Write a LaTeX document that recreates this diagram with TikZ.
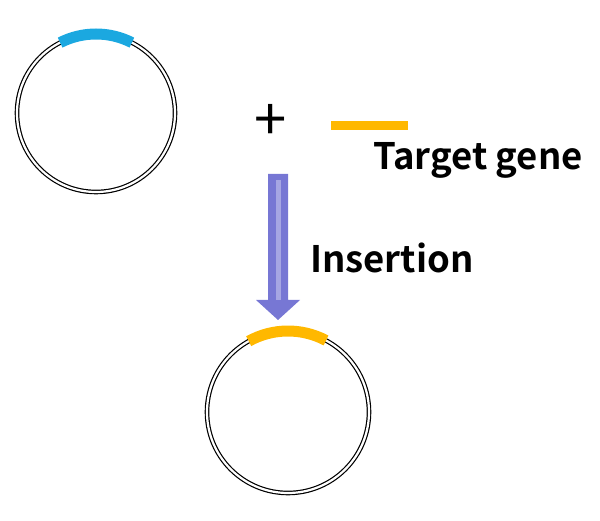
\documentclass[tikz,border=0pt]{standalone}
\usepackage{fontspec}
\setmainfont{Noto Sans CJK SC}[BoldFont={Noto Sans CJK SC Bold}]
\usetikzlibrary{positioning}
\definecolor{geneblue}{HTML}{1BA8E0}
\definecolor{geneyellow}{HTML}{FFB800}
\definecolor{arrowblue}{HTML}{7777D4}
\tikzset{
  plasmid/.style={draw=black, line width=1.2pt, double=white, double distance=2.2pt},
  gene/.style={line width=11pt},
  label/.style={font=\bfseries\fontsize{36.5}{36.5}\selectfont, inner sep=0pt}
}
\begin{document}
\begin{tikzpicture}[x=1pt,y=-1pt]
\useasboundingbox (0,0) rectangle (600,521);
\draw[plasmid] (96,113) circle (79);
\draw[gene, geneblue] (96,113) ++(-117:79) arc[start angle=-117, end angle=-63, radius=79];
\node (plus) at (271,122) {\fontsize{58}{58}\selectfont +};
\coordinate (gs) at (331,126);
\coordinate (ge) at (408,126);
\draw[geneyellow, line width=9pt] (gs) -- (ge);
\node[label, anchor=west] (target) at (373,160) {Target gene};
\coordinate (top) at (278,174);
\coordinate (tip) at (278,320);
\fill[arrowblue] (268,174) -- (288,174) -- (288,300) -- (300,300) -- (tip) -- (256,300) -- (268,300) -- cycle;
\draw[white, opacity=0.35, line width=5pt] (top) ++(0,6) -- (278,300);
\node[label, anchor=west] (insert) at (310,258) {Insertion};
\draw[plasmid] (288,412) circle (81);
\draw[gene, geneyellow] (288,412) ++(-119:81) arc[start angle=-119, end angle=-62, radius=81];
\end{tikzpicture}
\end{document}
